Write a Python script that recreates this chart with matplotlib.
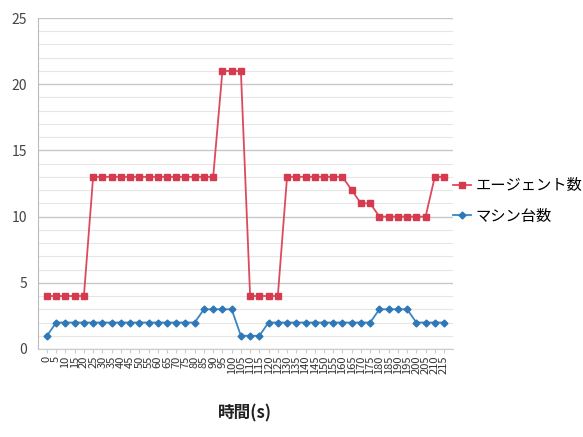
import numpy as np
import matplotlib.pyplot as plt
from matplotlib.ticker import MultipleLocator

plt.rcParams['font.family'] = ['Noto Sans CJK JP', 'DejaVu Sans']

# 時間 (s)
time_s = list(range(0, 220, 5))

# エージェント数
agents = [4, 4, 4, 4, 4,
          13, 13, 13, 13, 13, 13, 13, 13, 13, 13, 13, 13, 13, 13,
          21, 21, 21,
          4, 4, 4, 4,
          13, 13, 13, 13, 13, 13, 13,
          12, 11, 11,
          10, 10, 10, 10, 10, 10,
          13, 13]

# マシン台数
machines = [1,
            2, 2, 2, 2, 2, 2, 2, 2, 2, 2, 2, 2, 2, 2, 2, 2,
            3, 3, 3, 3,
            1, 1, 1,
            2, 2, 2, 2, 2, 2, 2, 2, 2, 2, 2, 2,
            3, 3, 3, 3,
            2, 2, 2, 2]

x = np.arange(len(time_s))

fig = plt.figure(figsize=(5.83, 4.37), dpi=100)
ax = fig.add_axes([38/583, 1-349/437, (453-38)/583, (349-18)/437])

ax.plot(x, agents, color='#dc4a5e', lw=1.3, marker='s', ms=5,
        mfc='#d63a4e', mec='#d63a4e', label='エージェント数', zorder=3)
ax.plot(x, machines, color='#3a86c4', lw=1.3, marker='D', ms=3.5,
        mfc='#2f78b8', mec='#2f78b8', label='マシン台数', zorder=3)

ax.set_ylim(0, 25)
ax.set_xlim(-0.97, len(x) - 1 + 0.97)
ax.yaxis.set_major_locator(MultipleLocator(5))
ax.yaxis.set_minor_locator(MultipleLocator(1))
ax.grid(axis='y', which='major', color='#c8c8c8', lw=1.0)
ax.grid(axis='y', which='minor', color='#e6e6e6', lw=0.8)
ax.set_axisbelow(True)

ax.set_xticks(x)
ax.set_xticklabels([str(t) for t in time_s], rotation=90, fontsize=8, color='#333333')
ax.tick_params(axis='x', length=3, color='#cccccc', pad=2)
ax.tick_params(axis='y', which='both', length=0, labelsize=10, labelcolor='#444444', pad=8)

for s in ['top', 'right']:
    ax.spines[s].set_visible(False)
ax.spines['left'].set_color('#bbbbbb')
ax.spines['bottom'].set_color('#cccccc')

fig.text(245/583, 1-413/437, '時間(s)', ha='center', va='center', fontsize=12,
         color='#222222', fontweight='bold')

fig.legend(loc='upper left', bbox_to_anchor=(453/583, 1-177/437), frameon=False,
           fontsize=11, handlelength=1.2, handletextpad=0.3, labelspacing=0.9,
           borderaxespad=0, borderpad=0)

fig.savefig('out.png', dpi=100)
